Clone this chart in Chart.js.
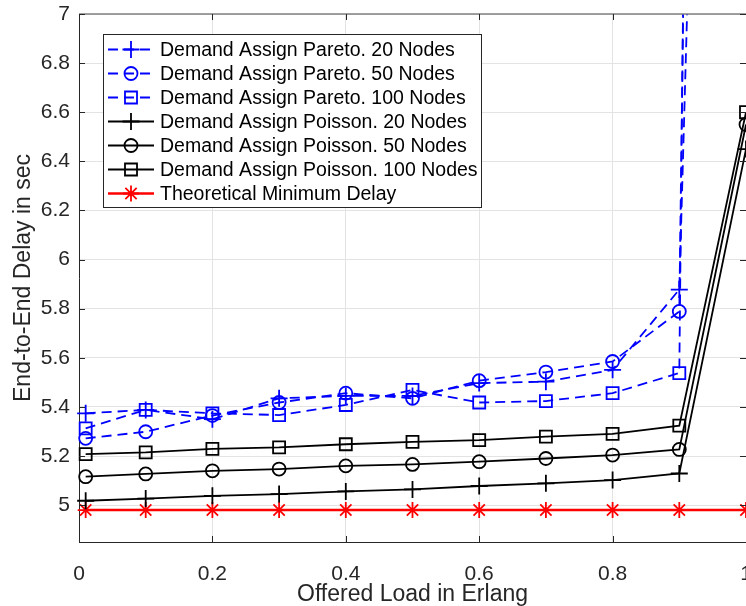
<!DOCTYPE html>
<html>
<head>
<meta charset="utf-8">
<script src="https://cdn.jsdelivr.net/npm/chart.js@4.4.1/dist/chart.umd.min.js"></script>
<style>
html, body { margin: 0; padding: 0; background: #fff; }
#wrap { width: 746px; height: 606px; }
</style>
</head>
<body>
<div id="wrap"><canvas id="grafica" width="746" height="606"></canvas></div>
<script>
// carga ofrecida (Erlang)
var cargas = [0.01, 0.1, 0.2, 0.3, 0.4, 0.5, 0.6, 0.7, 0.8, 0.9, 1.0];

// retardos extremo a extremo (s)
var pareto20 = [5.374, 5.388, 5.35, 5.435, 5.445, 5.445, 5.497, 5.503, 5.551, 5.878, 15.5];
var pareto50 = [5.272, 5.299, 5.365, 5.418, 5.456, 5.435, 5.507, 5.542, 5.585, 5.789, 27];
var pareto100 = [5.313, 5.388, 5.374, 5.367, 5.408, 5.469, 5.418, 5.424, 5.456, 5.538, 32];
var poisson20 = [5.018, 5.027, 5.038, 5.045, 5.056, 5.064, 5.078, 5.089, 5.102, 5.129, 6.45];
var poisson50 = [5.116, 5.127, 5.14, 5.147, 5.16, 5.166, 5.177, 5.19, 5.204, 5.227, 6.55];
var poisson100 = [5.208, 5.215, 5.229, 5.235, 5.248, 5.258, 5.265, 5.279, 5.29, 5.324, 6.6];
var minimo = [4.98, 4.98, 4.98, 4.98, 4.98, 4.98, 4.98, 4.98, 4.98, 4.98, 4.98];

var etiquetas = [
	"Demand Assign Pareto. 20 Nodes",
	"Demand Assign Pareto. 50 Nodes",
	"Demand Assign Pareto. 100 Nodes",
	"Demand Assign Poisson. 20 Nodes",
	"Demand Assign Poisson. 50 Nodes",
	"Demand Assign Poisson. 100 Nodes",
	"Theoretical Minimum Delay"
];
var ticksX = [0, 0.2, 0.4, 0.6, 0.8, 1];
var ticksY = [5, 5.2, 5.4, 5.6, 5.8, 6, 6.2, 6.4, 6.6, 6.8, 7];

var FUENTE = '"Liberation Sans", Arial, Helvetica, sans-serif';
var GRIS = '#262626';

function serie(nombre, valores, color, estilo, radio, discontinua, ancho) {
	return {
		label: nombre,
		data: cargas.map(function(c, i) { return {x: c, y: valores[i]}; }),
		borderColor: color,
		borderWidth: ancho || 1.8,
		borderDash: discontinua ? [10, 6] : [],
		pointStyle: estilo,
		pointRadius: radio,
		pointBorderColor: color,
		pointBackgroundColor: 'rgba(0,0,0,0)',
		pointBorderWidth: 1.8,
		fill: false,
		tension: 0,
		clip: {left: 10, top: 0, right: 0, bottom: 10}
	};
}

// marcas hacia dentro y borde superior
var marco = {
	id: 'marco',
	afterDatasetsDraw: function(chart) {
		var ctx = chart.ctx, a = chart.chartArea;
		var sx = chart.scales.x, sy = chart.scales.y;
		ctx.save();
		ctx.strokeStyle = '#808080';
		ctx.lineWidth = 1.5;
		ctx.beginPath();
		ctx.moveTo(a.left, a.top);
		ctx.lineTo(a.right, a.top);
		ctx.stroke();
		ctx.strokeStyle = GRIS;
		ctx.lineWidth = 1;
		ctx.beginPath();
		ticksX.forEach(function(v) {
			var px = Math.round(sx.getPixelForValue(v)) + 0.5;
			ctx.moveTo(px, a.bottom); ctx.lineTo(px, a.bottom - 6);
			ctx.moveTo(px, a.top); ctx.lineTo(px, a.top + 6);
		});
		ticksY.forEach(function(v) {
			var py = Math.round(sy.getPixelForValue(v)) + 0.5;
			ctx.moveTo(a.left, py); ctx.lineTo(a.left + 6, py);
			ctx.moveTo(a.right, py); ctx.lineTo(a.right - 6, py);
		});
		ctx.stroke();
		ctx.restore();
	}
};

function marcador(ctx, ds, x, y) {
	var op = {pointStyle: ds.pointStyle, radius: ds.pointRadius, rotation: 0, borderWidth: ds.pointBorderWidth};
	ctx.setLineDash([]);
	ctx.fillStyle = 'rgba(0,0,0,0)';
	ctx.strokeStyle = ds.pointBorderColor;
	ctx.lineWidth = ds.pointBorderWidth;
	Chart.helpers.drawPoint(ctx, op, x, y);
}

var leyenda = {
	id: 'leyenda',
	afterDraw: function(chart) {
		var ctx = chart.ctx;
		var x0 = 103, y0 = 34, w = 378, h = 173;
		ctx.save();
		ctx.fillStyle = '#fff';
		ctx.fillRect(x0, y0, w, h);
		ctx.strokeStyle = GRIS;
		ctx.lineWidth = 1;
		ctx.strokeRect(x0 + 0.5, y0 + 0.5, w, h);
		ctx.font = '19.5px ' + FUENTE;
		ctx.textBaseline = 'middle';
		chart.data.datasets.forEach(function(ds, i) {
			var y = y0 + 15.5 + i * 24;
			ctx.strokeStyle = ds.borderColor;
			ctx.lineWidth = ds.borderWidth;
			ctx.setLineDash(ds.borderDash);
			ctx.beginPath();
			ctx.moveTo(108, y);
			ctx.lineTo(154, y);
			ctx.stroke();
			marcador(ctx, ds, 131, y);
			ctx.fillStyle = '#000';
			ctx.fillText(ds.label, 160, y + 1);
		});
		ctx.restore();
	}
};

function formato(v) {
	return String(Math.round(v * 10) / 10);
}

var ctx = document.getElementById('grafica');
var grafica = new Chart(ctx, {
	type: 'line',
	data: {
		datasets: [
			serie(etiquetas[0], pareto20, '#0000ff', 'cross', 8.5, true),
			serie(etiquetas[1], pareto50, '#0000ff', 'circle', 6.5, true),
			serie(etiquetas[2], pareto100, '#0000ff', 'rect', 8.5, true),
			serie(etiquetas[3], poisson20, '#000000', 'cross', 8.5, false),
			serie(etiquetas[4], poisson50, '#000000', 'circle', 6.5, false),
			serie(etiquetas[5], poisson100, '#000000', 'rect', 8.5, false),
			serie(etiquetas[6], minimo, '#ff0000', 'star', 8, false, 2.5)
		]
	},
	options: {
		responsive: false,
		animation: false,
		devicePixelRatio: 1,
		events: [],
		layout: {autoPadding: false, padding: {top: 14, left: 0, right: 0, bottom: 0}},
		plugins: {legend: {display: false}, tooltip: {enabled: false}},
		scales: {
			x: {
				type: 'linear',
				min: 0,
				max: 1,
				afterBuildTicks: function(s) { s.ticks = ticksX.map(function(v) { return {value: v}; }); },
				afterFit: function(s) { s.height = 64; s.paddingLeft = 0; s.paddingRight = 0; },
				ticks: {autoSkip: false, maxRotation: 0, padding: 20, color: GRIS, font: {family: FUENTE, size: 21}, callback: formato},
				grid: {color: '#e3e3e3', lineWidth: 1, drawTicks: false},
				border: {color: GRIS, width: 1},
				title: {display: true, text: 'Offered Load in Erlang', color: GRIS, font: {family: FUENTE, size: 23, lineHeight: 1.0}, padding: {top: 0, bottom: 0}}
			},
			y: {
				type: 'linear',
				min: 4.85,
				max: 7,
				afterBuildTicks: function(s) { s.ticks = ticksY.map(function(v) { return {value: v}; }); },
				afterFit: function(s) { s.width = 79; s.paddingTop = 0; s.paddingBottom = 0; },
				ticks: {autoSkip: false, padding: 9, color: GRIS, font: {family: FUENTE, size: 21}, callback: formato},
				grid: {color: '#e3e3e3', lineWidth: 1, drawTicks: false},
				border: {color: GRIS, width: 1},
				title: {display: true, text: 'End-to-End Delay in sec', color: GRIS, font: {family: FUENTE, size: 23}, padding: {top: 10, bottom: 0}}
			}
		}
	},
	plugins: [marco, leyenda]
});
</script>
</body>
</html>
